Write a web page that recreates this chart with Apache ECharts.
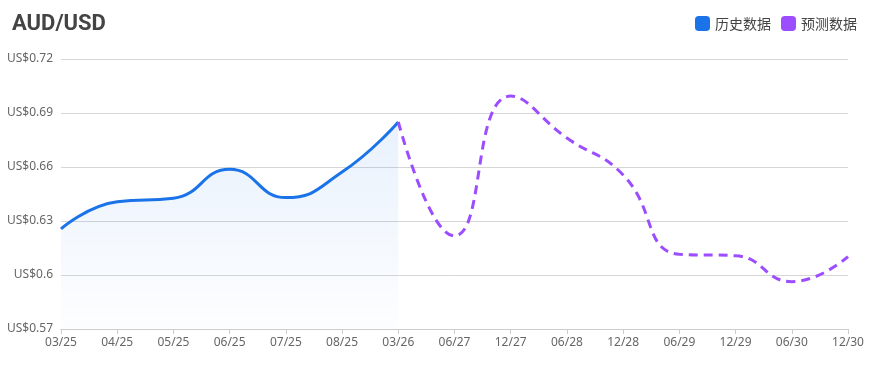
<!DOCTYPE html>
<html>
<head>
<meta charset="utf-8">
<script src="https://cdn.jsdelivr.net/npm/echarts@6/dist/echarts.min.js"></script>
<style>html,body{margin:0;padding:0;background:#fff;}#c{width:871px;height:371px;}</style>
</head>
<body>
<div id="c"></div>
<script>
const categories = ['03/25','04/25','05/25','06/25','07/25','08/25','03/26','06/27','12/27','06/28','12/28','06/29','12/29','06/30','12/30'];
const historyValues = [0.6256, 0.6407, 0.6426, 0.6587, 0.6430, 0.6572, 0.685, null, null, null, null, null, null, null, null];
const forecastValues = [null, null, null, null, null, null, 0.685, 0.6217, 0.6994, 0.6761, 0.6556, 0.6115, 0.6107, 0.5963, 0.6102];
const yTicks = { min: 0.57, max: 0.72, interval: 0.03 };

const chart = echarts.init(document.getElementById('c'));
chart.setOption({
  animation: false,
  title: { text: 'AUD/USD', left: 12, top: 13, padding: 0, textStyle: { fontFamily: 'Roboto', fontSize: 22, fontWeight: 'bold', color: '#444' } },
  legend: {
    right: 14, top: 16, padding: 0, itemWidth: 15, itemHeight: 15, itemGap: 10, icon: 'roundRect',
    textStyle: { fontFamily: 'Noto Sans CJK SC', fontSize: 14, color: '#444' },
    data: ['历史数据', '预测数据']
  },
  grid: { left: 61, right: 23, top: 59, bottom: 42 },
  xAxis: {
    type: 'category', data: categories, boundaryGap: false,
    axisLine: { lineStyle: { color: '#ccc' } },
    axisTick: { show: true, lineStyle: { color: '#ccc' } },
    axisLabel: { color: '#666', fontFamily: 'Noto Sans', fontSize: 12, margin: 8 }
  },
  yAxis: {
    type: 'value', min: yTicks.min, max: yTicks.max, interval: yTicks.interval,
    axisLine: { show: false }, axisTick: { show: false },
    splitLine: { lineStyle: { color: '#d6d6d6' } },
    axisLabel: { color: '#666', fontFamily: 'Noto Sans', fontSize: 12, margin: 8,
      formatter: v => 'US$' + parseFloat(v.toFixed(2)) }
  },
  series: [
    {
      name: '历史数据', type: 'line', data: historyValues, smooth: true, showSymbol: false,
      itemStyle: { color: '#1a73e8' },
      lineStyle: { color: '#1a73e8', width: 3 },
      areaStyle: { origin: 'start', color: new echarts.graphic.LinearGradient(0, 0, 0, 1, [
        { offset: 0, color: 'rgba(26,115,232,0.14)' }, { offset: 1, color: 'rgba(26,115,232,0.01)' }]) }
    },
    {
      name: '预测数据', type: 'line', data: forecastValues, smooth: true, showSymbol: false,
      itemStyle: { color: '#9b4dff' },
      lineStyle: { color: '#9b4dff', width: 3, type: [9, 6] }
    }
  ]
});
</script>
</body>
</html>
